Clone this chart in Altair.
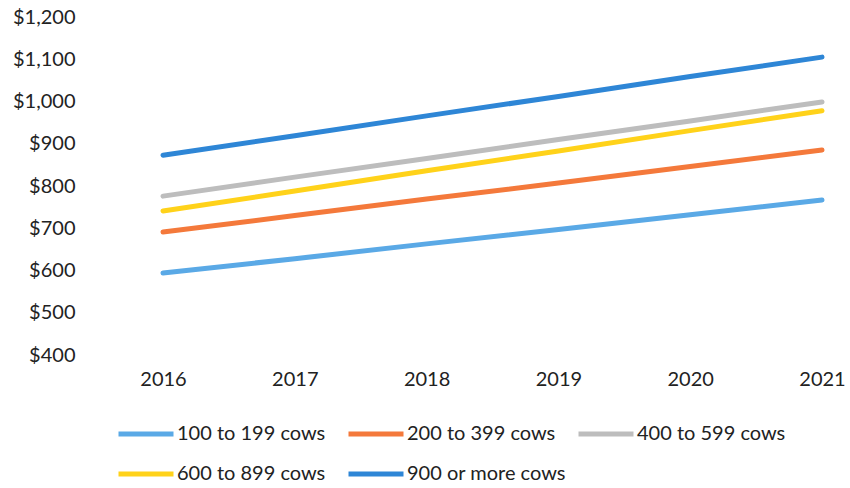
import altair as alt
import pandas as pd

years = ["2016", "2017", "2018", "2019", "2020", "2021"]
series_names = ["100 to 199 cows", "200 to 399 cows", "400 to 599 cows",
                "600 to 899 cows", "900 or more cows"]
v_100_199 = [594, 628, 663, 697, 732, 767]
v_200_399 = [691, 730, 769, 807, 846, 885]
v_400_599 = [776, 821, 865, 910, 954, 999]
v_600_899 = [741, 788, 836, 883, 931, 978]
v_900_plus = [873, 919, 966, 1012, 1059, 1105]
series_values = [v_100_199, v_200_399, v_400_599, v_600_899, v_900_plus]
colors = ["#5AA9E6", "#F4793B", "#BDBDBD", "#FFD21A", "#2E86D6"]
y_ticks = [400, 500, 600, 700, 800, 900, 1000, 1100, 1200]

rows = []
for name, vals in zip(series_names, series_values):
    for yr, v in zip(years, vals):
        rows.append({"Year": yr, "Size": name, "Value": v})
df = pd.DataFrame(rows)

FONT = "Lato"

chart = alt.Chart(df).mark_line(strokeWidth=5, strokeCap="round").encode(
    x=alt.X("Year:O", sort=years,
            scale=alt.Scale(type="point", padding=0),
            axis=alt.Axis(title=None, labelAngle=0, ticks=False, domain=False,
                          grid=False, labelPadding=14, labelFontSize=20,
                          labelFont=FONT, labelColor="#222222")),
    y=alt.Y("Value:Q", scale=alt.Scale(domain=[400, 1200], nice=False, zero=False),
            axis=alt.Axis(title=None, values=y_ticks, format="$,.0f", ticks=False,
                          domain=False, grid=False, labelPadding=88,
                          labelFontSize=20, labelFont=FONT, labelColor="#222222")),
    color=alt.Color("Size:N", sort=series_names,
                    scale=alt.Scale(domain=series_names, range=colors),
                    legend=alt.Legend(title=None, orient="none", legendX=-47,
                                      legendY=387, columns=3, gridAlign="all",
                                      direction="horizontal",
                                      columnPadding=2, rowPadding=-14,
                                      symbolType="stroke", symbolSize=3025,
                                      symbolStrokeWidth=5, labelOffset=1,
                                      labelFontSize=20, labelFont=FONT,
                                      labelColor="#222222")),
    detail="Size:N",
).properties(
    width=659, height=338,
    autosize=alt.AutoSizeParams(type="none"),
    padding={"left": 163, "top": 17, "right": 28, "bottom": 133},
).configure(background="white").configure_view(stroke=None, strokeWidth=0)

chart.save("out.html", embed_options={"renderer": "svg", "actions": False})
